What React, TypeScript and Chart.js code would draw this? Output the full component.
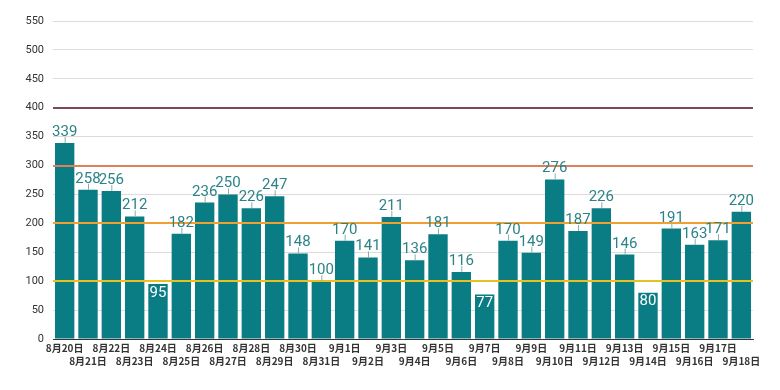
import React, { useEffect, useRef } from "react";
import { Chart, registerables } from "chart.js";

Chart.register(...registerables);

const categories = [
  "8月20日", "8月21日", "8月22日", "8月23日", "8月24日", "8月25日", "8月26日", "8月27日",
  "8月28日", "8月29日", "8月30日", "8月31日", "9月1日", "9月2日", "9月3日", "9月4日",
  "9月5日", "9月6日", "9月7日", "9月8日", "9月9日", "9月10日", "9月11日", "9月12日",
  "9月13日", "9月14日", "9月15日", "9月16日", "9月17日", "9月18日",
];

const values = [
  339, 258, 256, 212, 95, 182, 236, 250, 226, 247, 148, 100, 170, 141, 211, 136,
  181, 116, 77, 170, 149, 276, 187, 226, 146, 80, 191, 163, 171, 220,
];

const refValues = [100, 200, 300, 400];
const refColors = ["#e8c020", "#f0a030", "#e0805a", "#7a4a55"];

const yMax = 550;
const yStep = 25;
const yLabelStep = 50;

const BAR_COLOR = "#097c84";
const LABEL_COLOR = "#2b8389";

const refLinesPlugin = {
  id: "refLines",
  afterDatasetsDraw(chart: any) {
    const { ctx, chartArea, scales } = chart;
    ctx.save();
    ctx.lineWidth = 2;
    refValues.forEach((v, i) => {
      const y = Math.round(scales.y.getPixelForValue(v));
      ctx.strokeStyle = refColors[i];
      ctx.beginPath();
      ctx.moveTo(chartArea.left, y);
      ctx.lineTo(chartArea.right, y);
      ctx.stroke();
    });
    ctx.restore();
  },
};

const valueLabelsPlugin = {
  id: "valueLabels",
  afterDraw(chart: any) {
    const { ctx } = chart;
    const meta = chart.getDatasetMeta(0);
    ctx.save();
    ctx.font = "15px Roboto";
    ctx.textAlign = "center";
    meta.data.forEach((bar: any, i: number) => {
      const v = values[i];
      const x = bar.x;
      const top = bar.y;
      if (v < 100) {
        ctx.fillStyle = "#ffffff";
        ctx.textBaseline = "middle";
        ctx.fillText(String(v), x, top + 9);
      } else {
        ctx.strokeStyle = "#8aaeb0";
        ctx.lineWidth = 1;
        ctx.beginPath();
        ctx.moveTo(x + 0.5, top);
        ctx.lineTo(x + 0.5, top - 6);
        ctx.stroke();
        ctx.fillStyle = LABEL_COLOR;
        ctx.textBaseline = "alphabetic";
        ctx.fillText(String(v), x, top - 7);
      }
    });
    ctx.restore();
  },
};

export default function App() {
  const canvasRef = useRef<HTMLCanvasElement | null>(null);

  useEffect(() => {
    document.body.style.margin = "0";
    const canvas = canvasRef.current;
    if (!canvas) return;
    const chart = new Chart(canvas, {
      type: "bar",
      data: {
        labels: categories,
        datasets: [
          {
            data: values,
            backgroundColor: BAR_COLOR,
            borderWidth: 0,
            barPercentage: 0.83,
            categoryPercentage: 1.0,
          },
        ],
      },
      options: {
        animation: false,
        responsive: false,
        layout: { padding: { top: 21, right: 27, left: 0, bottom: 0 } },
        plugins: {
          legend: { display: false },
          tooltip: { enabled: false },
        },
        scales: {
          x: {
            grid: { display: false, drawTicks: false },
            border: { display: true, color: "#333333", width: 1 },
            ticks: {
              autoSkip: false,
              maxRotation: 0,
              minRotation: 0,
              padding: 3,
              color: "#333333",
              font: { family: "'Noto Sans CJK JP'", size: 10, weight: "bold", lineHeight: 1.3 },
              callback: (_v: any, i: number) =>
                i % 2 === 0 ? [categories[i], " "] : [" ", categories[i]],
            },
            afterFit: (scale: any) => {
              scale.height = 51;
            },
          },
          y: {
            min: 0,
            max: yMax,
            grid: { color: "#dcdcdc", drawTicks: false, lineWidth: 1 },
            border: { display: false },
            ticks: {
              stepSize: yStep,
              padding: 9,
              color: "#333333",
              font: { family: "Roboto", size: 11 },
              callback: (v: any) => (Number(v) % yLabelStep === 0 ? String(v) : ""),
            },
            afterFit: (scale: any) => {
              scale.width = 53;
            },
          },
        },
      },
      plugins: [refLinesPlugin, valueLabelsPlugin],
    });
    return () => chart.destroy();
  }, []);

  return (
    <div style={{ width: 780, height: 390 }}>
      <canvas ref={canvasRef} width={780} height={390} />
    </div>
  );
}
